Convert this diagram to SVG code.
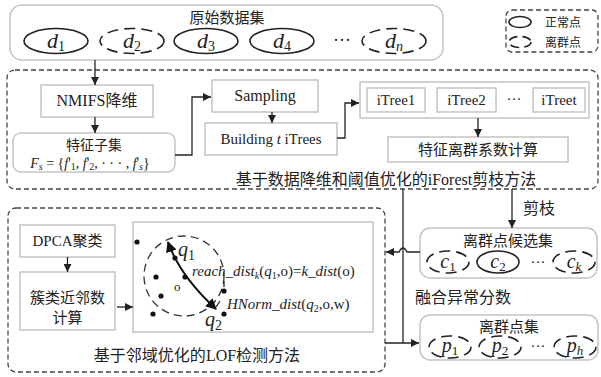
<svg xmlns="http://www.w3.org/2000/svg" width="601" height="377" viewBox="0 0 601 377">
<style>
text{font-family:"Liberation Serif","Noto Sans CJK SC",serif;fill:#222}
.cjk{font-family:"Noto Sans CJK SC","Liberation Sans",sans-serif}
.box{fill:#fff;stroke:#c4c4c4;stroke-width:1.5}
.dbox{fill:none;stroke:#444;stroke-width:1.3;stroke-dasharray:5 3}
.el{fill:#fff;stroke:#222;stroke-width:1.6}
.del{fill:#fff;stroke:#222;stroke-width:1.6;stroke-dasharray:11 6}
.ln{fill:none;stroke:#222;stroke-width:1.3}
.it{font-style:italic}
.m{text-anchor:middle}
.dot{fill:#111}
</style>
<defs>
<marker id="ah" viewBox="0 0 10 10" refX="10" refY="5" markerWidth="8" markerHeight="8" markerUnits="userSpaceOnUse" orient="auto"><path d="M0,0 L10,5 L0,10 z" fill="#222"/></marker>
<marker id="ah2" viewBox="0 0 10 10" refX="9" refY="5" markerWidth="11" markerHeight="11" markerUnits="userSpaceOnUse" orient="auto-start-reverse"><path d="M0,0 L10,5 L0,10 z" fill="#111"/></marker>
</defs>

<g id="dataset">
<rect class="box" x="10" y="5" width="433" height="55" rx="12"/>
<text class="cjk m" x="227" y="23" font-size="15">原始数据集</text>
<ellipse class="el" cx="56" cy="41" rx="32" ry="12.5"/>
<text class="m" x="56" y="48" font-size="22"><tspan class="it">d</tspan><tspan font-size="14" dy="3">1</tspan></text>
<ellipse class="del" cx="132" cy="41" rx="32" ry="12.5"/>
<text class="m" x="132" y="48" font-size="22"><tspan class="it">d</tspan><tspan font-size="14" dy="3">2</tspan></text>
<ellipse class="el" cx="206" cy="41" rx="32" ry="12.5"/>
<text class="m" x="206" y="48" font-size="22"><tspan class="it">d</tspan><tspan font-size="14" dy="3">3</tspan></text>
<ellipse class="el" cx="282" cy="41" rx="32" ry="12.5"/>
<text class="m" x="282" y="48" font-size="22"><tspan class="it">d</tspan><tspan font-size="14" dy="3">4</tspan></text>
<text class="m" x="342" y="46" font-size="18">···</text>
<ellipse class="del" cx="394" cy="41" rx="32" ry="12.5"/>
<text class="m" x="394" y="48" font-size="22"><tspan class="it">d</tspan><tspan class="it" font-size="14" dy="3">n</tspan></text>
</g>

<g id="legend">
<rect class="dbox" x="506" y="10" width="92" height="42" rx="6"/>
<ellipse class="el" cx="520" cy="22" rx="11" ry="5.5"/>
<text class="cjk" x="545" y="27" font-size="12">正常点</text>
<ellipse class="del" cx="520" cy="42" rx="11" ry="5.5" style="stroke-dasharray:9 5"/>
<text class="cjk" x="545" y="47" font-size="12">离群点</text>
</g>

<g id="iforest">
<rect class="dbox" x="7" y="70" width="591" height="119" rx="8"/>
<text class="cjk m" x="386" y="185" font-size="16">基于数据降维和阈值优化的<tspan style="font-family:'Liberation Serif',serif">iForest</tspan>剪枝方法</text>
</g>
<g id="nmifs">
<rect class="box" x="41" y="85" width="112" height="32"/>
<text class="m" x="97" y="106" font-size="16">NMIFS<tspan class="cjk">降维</tspan></text>
</g>
<g id="subset">
<rect class="box" x="13" y="133" width="162" height="39" rx="8"/>
<text class="cjk m" x="94" y="150" font-size="14">特征子集</text>
<text class="m" x="90" y="168" font-size="14"><tspan class="it">F</tspan><tspan class="it" font-size="10" dy="2">s</tspan><tspan dy="-2"> = {</tspan><tspan class="it">f</tspan>'<tspan font-size="10" dy="2">1</tspan><tspan dy="-2">, </tspan><tspan class="it">f</tspan>'<tspan font-size="10" dy="2">2</tspan><tspan dy="-2">, · · · , </tspan><tspan class="it">f</tspan>'<tspan class="it" font-size="10" dy="2">s</tspan><tspan dy="-2">}</tspan></text>
</g>
<g id="sampling">
<rect class="box" x="212" y="80" width="106" height="32"/>
<text class="m" x="265" y="101" font-size="16">Sampling</text>
</g>
<g id="building">
<rect class="box" x="205" y="123" width="132" height="32"/>
<text class="m" x="271" y="144" font-size="15">Building <tspan class="it">t</tspan> iTrees</text>
</g>
<g id="itrees">
<rect class="box" x="360" y="82" width="229" height="36"/>
<rect class="box" x="367" y="88" width="58" height="24"/>
<text class="m" x="396" y="105" font-size="15">iTree1</text>
<rect class="box" x="437" y="88" width="59" height="24"/>
<text class="m" x="466.5" y="105" font-size="15">iTree2</text>
<text class="m" x="514" y="104" font-size="15">···</text>
<rect class="box" x="533" y="88" width="52" height="24"/>
<text class="m" x="559" y="105" font-size="15">iTreet</text>
</g>
<g id="coef">
<rect class="box" x="388" y="137" width="180" height="25"/>
<text class="cjk m" x="478" y="155" font-size="15">特征离群系数计算</text>
</g>

<g id="lof">
<rect class="dbox" x="8" y="208" width="377" height="164" rx="8"/>
<text class="cjk m" x="197" y="361" font-size="16">基于邻域优化的<tspan style="font-family:'Liberation Serif',serif">LOF</tspan>检测方法</text>
</g>
<g id="dpca">
<rect class="box" x="20" y="225" width="95" height="32"/>
<text class="m" x="67.5" y="246" font-size="15">DPCA<tspan class="cjk">聚类</tspan></text>
</g>
<g id="neighbor">
<rect class="box" x="20" y="272" width="95" height="58"/>
<text class="cjk m" x="67.5" y="303" font-size="15">簇类近邻数</text>
<text class="cjk m" x="67.5" y="323" font-size="15">计算</text>
</g>
<g id="lofplot">
<rect class="box" x="133" y="222" width="240" height="110"/>
<circle cx="184" cy="276" r="40" fill="none" stroke="#333" stroke-width="1.3" stroke-dasharray="8 5"/>
<circle class="dot" cx="137" cy="242" r="2.6"/>
<circle class="dot" cx="175" cy="258" r="2.6"/>
<circle class="dot" cx="185" cy="277" r="2.6"/>
<circle class="dot" cx="156" cy="277" r="2.6"/>
<circle class="dot" cx="161" cy="296" r="2.6"/>
<circle class="dot" cx="153" cy="314" r="2.6"/>
<circle class="dot" cx="224" cy="291" r="2.6"/>
<circle class="dot" cx="224" cy="314" r="2.6"/>
<path d="M168,242 Q180,276 216,309" fill="none" stroke="#111" stroke-width="2" marker-start="url(#ah2)" marker-end="url(#ah2)"/>
<line class="ln" x1="224" y1="281" x2="224" y2="287"/>
<line class="ln" x1="216" y1="307" x2="220" y2="301"/>
<text x="174" y="291" font-size="13">o</text>
<text x="178" y="256" font-size="20"><tspan class="it">q</tspan><tspan font-size="14" dy="4">1</tspan></text>
<text x="205" y="326" font-size="20"><tspan class="it">q</tspan><tspan font-size="14" dy="4">2</tspan></text>
<text x="192" y="276" font-size="15"><tspan class="it">reach_dist</tspan><tspan class="it" font-size="10" dy="3">k</tspan><tspan dy="-3">(</tspan><tspan class="it">q</tspan><tspan font-size="10" dy="3">1</tspan><tspan dy="-3">,o)=</tspan><tspan class="it">k_dist</tspan>(o)</text>
<text x="227" y="309" font-size="15"><tspan class="it">HNorm_dist</tspan>(<tspan class="it">q</tspan><tspan font-size="10" dy="3">2</tspan><tspan dy="-3">,o,w)</tspan></text>
</g>

<g id="candidates">
<rect class="box" x="420" y="228" width="177" height="50" rx="10"/>
<text class="cjk m" x="508" y="246" font-size="15">离群点候选集</text>
<ellipse class="del" cx="448" cy="262" rx="21" ry="11"/>
<text class="m" x="448" y="268" font-size="20"><tspan class="it">c</tspan><tspan font-size="13" dy="3">1</tspan></text>
<ellipse class="el" cx="498" cy="262" rx="21" ry="11"/>
<text class="m" x="498" y="268" font-size="20"><tspan class="it">c</tspan><tspan font-size="13" dy="3">2</tspan></text>
<text class="m" x="538" y="267" font-size="15">···</text>
<ellipse class="del" cx="574" cy="262" rx="21" ry="11"/>
<text class="m" x="574" y="268" font-size="20"><tspan class="it">c</tspan><tspan class="it" font-size="13" dy="3">k</tspan></text>
</g>
<g id="outliers">
<rect class="box" x="420" y="315" width="178" height="45" rx="10"/>
<text class="cjk m" x="509" y="332" font-size="15">离群点集</text>
<ellipse class="del" cx="450" cy="347" rx="21" ry="11"/>
<text class="m" x="450" y="352" font-size="20"><tspan class="it">p</tspan><tspan font-size="13" dy="3">1</tspan></text>
<ellipse class="del" cx="500" cy="347" rx="21" ry="11"/>
<text class="m" x="500" y="352" font-size="20"><tspan class="it">p</tspan><tspan font-size="13" dy="3">2</tspan></text>
<text class="m" x="538" y="351" font-size="15">···</text>
<ellipse class="del" cx="575" cy="347" rx="21" ry="11"/>
<text class="m" x="575" y="352" font-size="20"><tspan class="it">p</tspan><tspan class="it" font-size="13" dy="3">h</tspan></text>
</g>

<g id="connectors">
<line class="ln" x1="95" y1="60" x2="95" y2="85" marker-end="url(#ah)"/>
<line class="ln" x1="95" y1="117" x2="95" y2="133" marker-end="url(#ah)"/>
<path class="ln" d="M175,155 H192 V97 H211" marker-end="url(#ah)"/>
<line class="ln" x1="272" y1="112" x2="272" y2="123" marker-end="url(#ah)"/>
<path class="ln" d="M337,138 H345 V103 H359" marker-end="url(#ah)"/>
<line class="ln" x1="478" y1="118" x2="478" y2="137" marker-end="url(#ah)"/>
<line class="ln" x1="512" y1="189" x2="512" y2="228" marker-end="url(#ah)"/>
<text class="cjk" x="523" y="214" font-size="16">剪枝</text>
<line class="ln" x1="403" y1="189" x2="403" y2="343"/>
<path class="ln" d="M420,252 H407 Q403,244 399,252 H386" marker-end="url(#ah)"/>
<path class="ln" d="M385,343 H419" marker-end="url(#ah)"/>
<text class="cjk" x="415" y="303" font-size="16">融合异常分数</text>
<line class="ln" x1="67.5" y1="257" x2="67.5" y2="272" marker-end="url(#ah)"/>
<line class="ln" x1="117" y1="307" x2="133" y2="307" marker-end="url(#ah)"/>
</g>
</svg>
